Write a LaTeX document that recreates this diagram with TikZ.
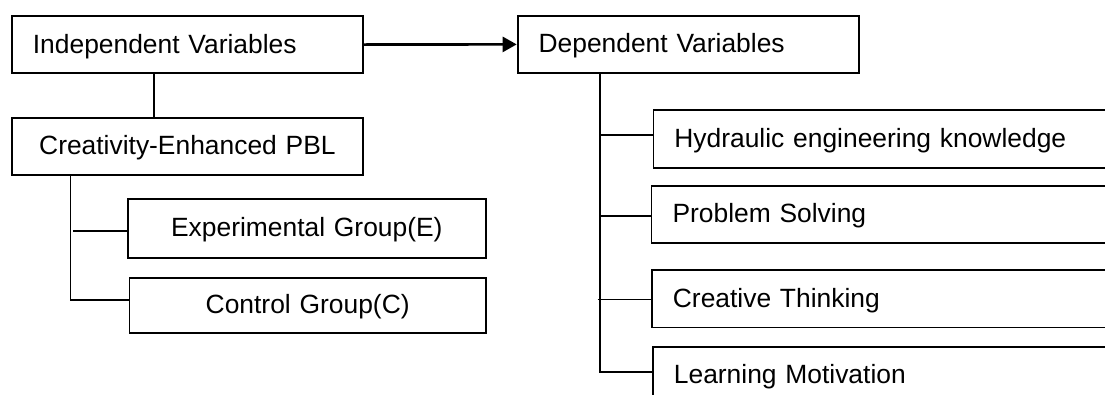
\documentclass[tikz,border=0pt]{standalone}
\usepackage{fontspec}
\setmainfont{Liberation Sans}
\usetikzlibrary{arrows.meta}
\tikzset{
  base/.style={draw=black, line width=1.8pt, rectangle, inner xsep=21pt, inner ysep=0pt,
    text height=17pt, text depth=0pt, anchor=north west,
    font=\fontsize{26.4pt}{30pt}\selectfont},
  lbox/.style={base, align=left},
  cbox/.style={base, align=center},
  conn/.style={line width=1.8pt, draw=black},
  arr/.style={line width=2.6pt, draw=black, -{Triangle[length=14pt,width=15pt]}}
}
\begin{document}
\begin{tikzpicture}[x=1pt, y=-1pt]
\useasboundingbox (0,0) rectangle (1105,394);
\clip (0,0) rectangle (1105,394);
% left side
\node[lbox, text width=309pt, minimum height=57.3pt] (indep) at (11,15) {Independent Variables};
\node[cbox, text width=309pt, minimum height=57.3pt] (creat) at (11,116.7) {Creativity-Enhanced PBL};
\node[cbox, text width=316.2pt, minimum height=59pt] (expg) at (126.8,197.7) {Experimental Group(E)};
\node[cbox, text width=314.4pt, minimum height=54.7pt] (ctrl) at (128.6,277) {Control Group(C)};
% right side
\node[lbox, text width=299.3pt, minimum height=57.6pt] (dep) at (516.7,14.7) {Dependent Variables};
\node[lbox, text width=458pt, minimum height=57.7pt] (hyd) at (652.5,109) {Hydraulic engineering knowledge};
\node[lbox, text width=458pt, minimum height=57pt] (ps) at (650.6,185) {Problem Solving};
\node[lbox, text width=458pt, minimum height=57.5pt] (ct) at (651,269) {Creative Thinking};
\node[lbox, text width=458pt, minimum height=57pt] (lm) at (652,346) {Learning Motivation};
% junction coordinates
\coordinate (ix) at (153.6,0);
\coordinate (ej) at (73,230.7);
\coordinate (cj) at (70.4,300);
\coordinate (hj) at (600,135);
\coordinate (pj) at (600,216);
\coordinate (tj) at (597.7,299.5);
\coordinate (lj) at (600,371.7);
% connectors
\draw[arr] (indep.east) -- (dep.west);
\draw[conn] (indep.south -| ix) -- (creat.north -| ix);
\draw[conn] (creat.south -| cj) -- (cj) -- (ctrl.west |- cj);
\draw[conn] (ej) -- (expg.west |- ej);
\draw[conn] (dep.south -| lj) -- (lj) -- (lm.west |- lj);
\draw[conn] (hj) -- (hyd.west |- hj);
\draw[conn] (pj) -- (ps.west |- pj);
\draw[conn] (tj) -- (ct.west |- tj);
\end{tikzpicture}
\end{document}
